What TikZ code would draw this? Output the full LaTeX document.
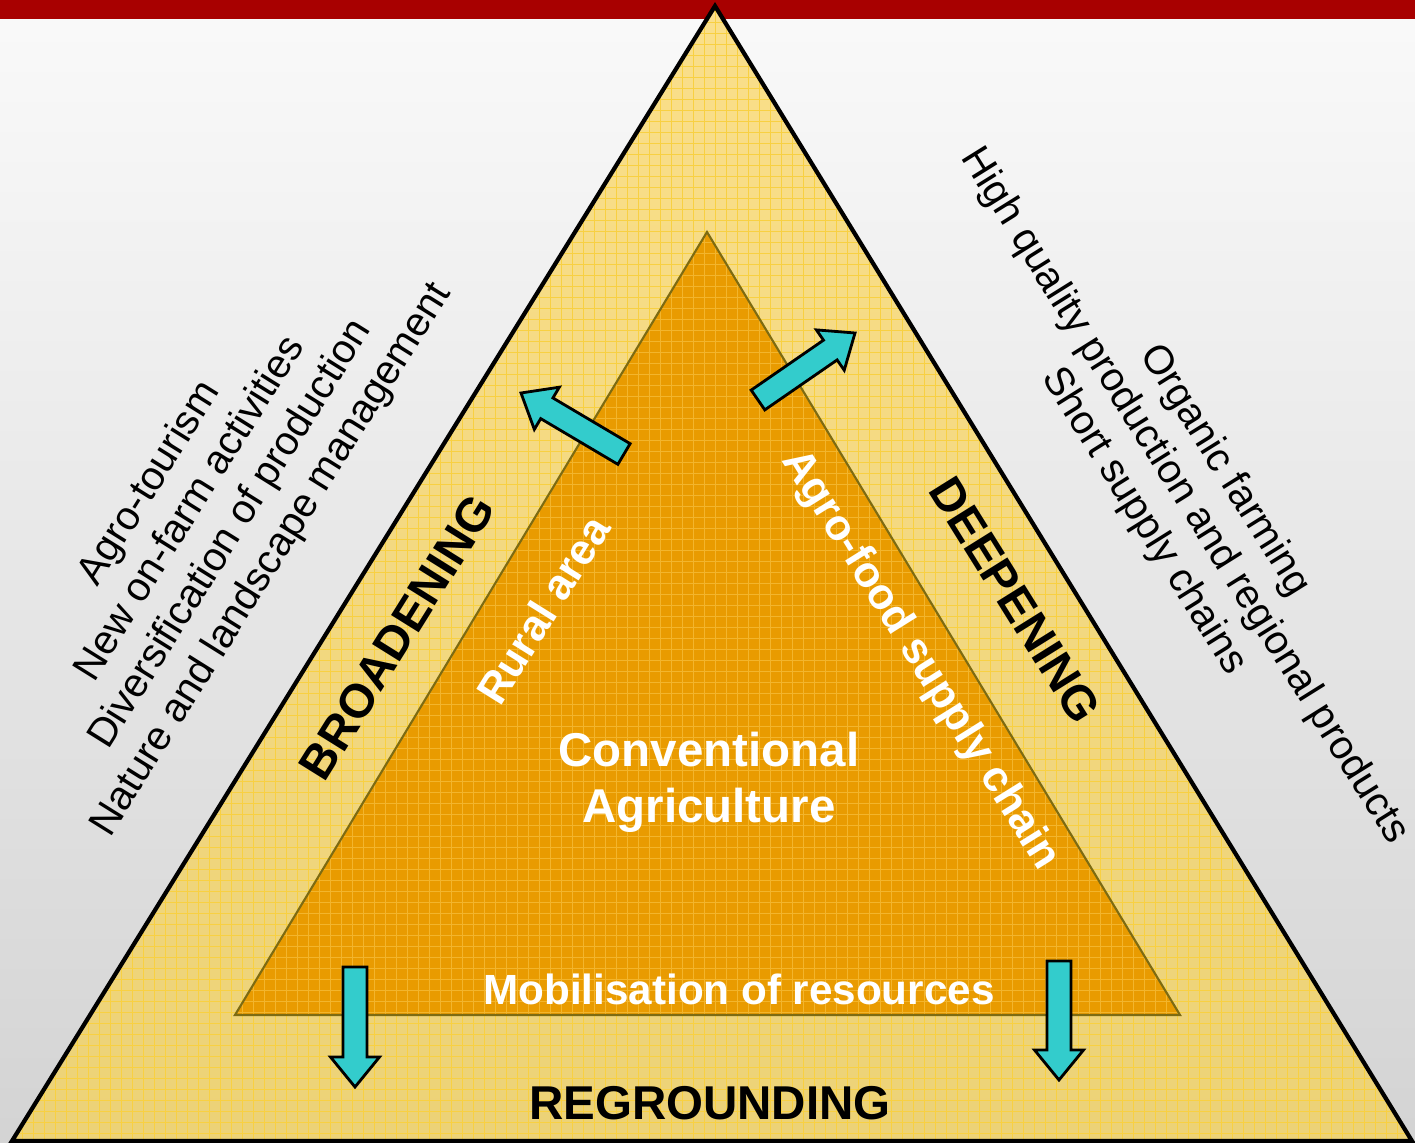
\documentclass[tikz,border=0pt]{standalone}
\usepackage{fontspec}
\setmainfont{Liberation Sans}
\usetikzlibrary{calc}
\definecolor{barred}{HTML}{A80000}
\definecolor{paleyellow}{HTML}{FADF8A}
\definecolor{paleyellowdk}{HTML}{ECD277}
\definecolor{gridyellow}{HTML}{F7CB2A}
\definecolor{deeporange}{HTML}{E99B00}
\definecolor{gridorange}{HTML}{F3B52C}
\definecolor{innerline}{HTML}{7D6B12}
\definecolor{arrowcyan}{HTML}{33CCCC}

\newcommand{\cyanarrow}[2]{%
  \coordinate (h) at ($(#2)!0.3cm!(#1)$);
  \draw[arrowbox] ($(#1)!0.12cm!90:(#2)$) -- ($(h)!0.12cm!-90:(#1)$) -- ($(h)!0.245cm!-90:(#1)$) -- (#2)
    -- ($(h)!0.245cm!90:(#1)$) -- ($(h)!0.12cm!90:(#1)$) -- ($(#1)!0.12cm!-90:(#2)$) -- cycle;}

\begin{document}
\begin{tikzpicture}[x=0.01cm,y=-0.01cm,
  arrowbox/.style={fill=arrowcyan,draw=black,line width=0.8pt,line join=miter},
  sidetext/.style={align=center,font=\fontsize{11.5}{13.6}\selectfont},
  bandtext/.style={font=\fontsize{13.5}{16}\selectfont\bfseries},
  innertext/.style={text=white,font=\fontsize{12.3}{15}\selectfont\bfseries}]
  \useasboundingbox (0,0) rectangle (1415,1143);
  % background and top bar
  \shade[top color=black!2,bottom color=black!17] (0,0) rectangle (1415,1143);
  \fill[barred] (0,0) rectangle (1415,19);
  % outer triangle
  \coordinate (top) at (715,6); \coordinate (bl) at (12,1141); \coordinate (br) at (1412,1141);
  \shade[top color=paleyellow,bottom color=paleyellowdk] (top) -- (bl) -- (br) -- cycle;
  \begin{scope}
    \clip (top) -- (bl) -- (br) -- cycle;
    \foreach \g in {0,11,...,1415} \draw[gridyellow!75!paleyellow,line width=0.25pt] (\g,0) -- (\g,1143);
    \foreach \g in {0,11,...,1143} \draw[gridyellow!75!paleyellow,line width=0.25pt] (0,\g) -- (1415,\g);
  \end{scope}
  % inner triangle
  \coordinate (itop) at (707,232); \coordinate (ibl) at (235,1015); \coordinate (ibr) at (1180,1015);
  \fill[deeporange] (itop) -- (ibl) -- (ibr) -- cycle;
  \begin{scope}
    \clip (itop) -- (ibl) -- (ibr) -- cycle;
    \foreach \g in {0,11,...,1415} \draw[gridorange,line width=0.25pt] (\g,0) -- (\g,1143);
    \foreach \g in {0,11,...,1143} \draw[gridorange,line width=0.25pt] (0,\g) -- (1415,\g);
  \end{scope}
  \draw[innerline,line width=0.6pt] (itop) -- (ibl) -- (ibr) -- cycle;
  \draw[line width=1.2pt,line join=miter] (top) -- (bl) -- (br) -- cycle;
  % arrows
  \coordinate (lt) at (624,454); \coordinate (lp) at (521,393); \cyanarrow{lt}{lp}
  \coordinate (rt) at (758,400); \coordinate (rp) at (855,333); \cyanarrow{rt}{rp}
  \coordinate (blt) at (355,967); \coordinate (blp) at (355,1087); \cyanarrow{blt}{blp}
  \coordinate (brt) at (1059,961); \coordinate (brp) at (1059,1080); \cyanarrow{brt}{brp}
  % texts
  \node[sidetext,rotate=58] (broadlist) at (211,522) {Agro-tourism\\New on-farm activities\\Diversification of production\\Nature and landscape management};
  \node[sidetext,rotate=-58] (deeplist) at (1184,496) {Organic farming\\High quality production and regional products\\Short supply chains};
  \node[bandtext,rotate=58] (broad) at (397,637) {BROADENING};
  \node[bandtext,rotate=-58] (deep) at (1015,600) {DEEPENING};
  \node[bandtext] (reground) at (710,1103) {REGROUNDING};
  \node[innertext,rotate=58] (rural) at (543,610) {Rural area};
  \node[innertext,rotate=-58] (agrofood) at (920,660) {Agro-food supply chain};
  \node[innertext,align=center,font=\fontsize{13.5}{16}\selectfont\bfseries] (conv) at (709,782) {Conventional\\Agriculture};
  \node[innertext,font=\fontsize{12}{14}\selectfont\bfseries] (mobil) at (739,989) {Mobilisation of resources};
\end{tikzpicture}
\end{document}
